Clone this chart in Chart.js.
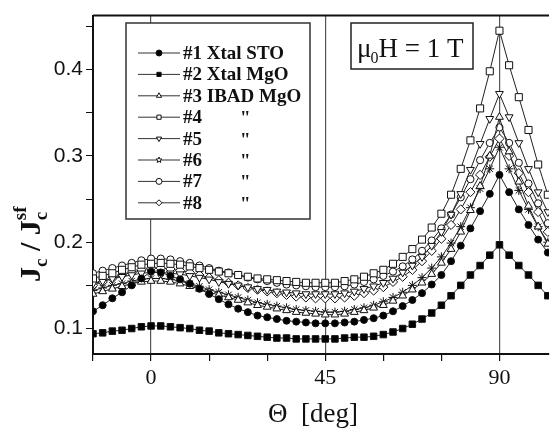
<!DOCTYPE html>
<html lang="en">
<head>
    <meta charset="UTF-8">
    <title>Jc / Jc sf vs angle</title>
    <style>
        body { margin: 0; background: #fff; }
        #wrap { width: 555px; height: 430px; overflow: hidden; }
    </style>
    <script src="https://cdn.jsdelivr.net/npm/chart.js"></script>
</head>
<body>
    <div id="wrap">
        <canvas id="jcChart" width="555" height="430"></canvas>
    </div>

    <script>
        // angle in degrees
        const theta = [-15, -12.5, -10, -7.5, -5, -2.5, 0, 2.5, 5, 7.5, 10, 12.5, 15, 17.5, 20, 22.5,
            25, 27.5, 30, 32.5, 35, 37.5, 40, 42.5, 45, 47.5, 50, 52.5, 55, 57.5, 60, 62.5,
            65, 67.5, 70, 72.5, 75, 77.5, 80, 82.5, 85, 87.5, 90, 92.5, 95, 97.5, 100, 102.5];

        const s1 = [.120, .127, .135, .142, .150, .158, .166, .165, .161, .157, .152, .146, .140, .134, .128, .123,
            .119, .115, .113, .111, .109, .108, .107, .106, .106, .106, .107, .108, .110, .112, .115, .120,
            .126, .133, .141, .151, .162, .178, .196, .216, .236, .256, .278, .258, .238, .220, .203, .188];
        const s2 = [.094, .095, .097, .098, .100, .102, .103, .103, .102, .101, .100, .098, .097, .095, .094, .093,
            .092, .091, .090, .089, .089, .088, .088, .088, .088, .088, .089, .090, .090, .091, .093, .096,
            .100, .105, .111, .118, .127, .138, .150, .162, .173, .185, .197, .185, .173, .162, .150, .138];
        const s3 = [.140, .143, .146, .149, .152, .154, .155, .155, .154, .152, .149, .146, .142, .139, .136, .133,
            .130, .127, .125, .123, .121, .119, .118, .117, .116, .116, .117, .119, .121, .124, .127, .132,
            .138, .145, .153, .163, .176, .192, .212, .237, .265, .300, .345, .305, .270, .242, .218, .198];
        const s4 = [.158, .161, .164, .168, .171, .174, .175, .176, .175, .174, .172, .170, .168, .166, .164, .162,
            .160, .158, .157, .156, .155, .154, .153, .153, .153, .153, .155, .157, .160, .164, .168, .175,
            .183, .192, .203, .217, .233, .255, .285, .318, .355, .398, .445, .405, .368, .330, .290, .255];
        const s5 = [.152, .155, .158, .160, .162, .164, .165, .165, .164, .163, .161, .159, .157, .154, .152, .150,
            .148, .146, .145, .143, .142, .141, .140, .140, .140, .140, .141, .143, .146, .149, .153, .158,
            .165, .173, .183, .196, .212, .232, .256, .284, .314, .343, .372, .345, .315, .285, .258, .235];
        const s6 = [.144, .147, .150, .152, .155, .157, .158, .158, .157, .155, .152, .149, .145, .142, .139, .136,
            .133, .130, .128, .126, .124, .122, .121, .120, .119, .119, .120, .122, .124, .127, .131, .136,
            .142, .150, .159, .170, .183, .199, .218, .240, .262, .285, .310, .285, .260, .238, .218, .200];
        const s7 = [.164, .167, .170, .173, .176, .179, .181, .181, .180, .178, .176, .173, .170, .167, .165, .162,
            .159, .157, .155, .153, .151, .150, .149, .148, .148, .148, .149, .151, .154, .157, .161, .166,
            .172, .180, .190, .202, .216, .232, .252, .273, .295, .315, .333, .315, .292, .268, .245, .222];
        const s8 = [.150, .154, .158, .162, .165, .168, .170, .170, .169, .167, .165, .162, .159, .156, .153, .150,
            .147, .145, .143, .141, .139, .137, .136, .135, .135, .135, .136, .138, .141, .144, .148, .154,
            .160, .168, .178, .190, .204, .220, .238, .258, .278, .299, .320, .300, .280, .258, .235, .212];

        const seriesNames = ['#1 Xtal STO', '#2 Xtal MgO', '#3 IBAD MgO', '#4', '#5', '#6', '#7', '#8'];
        const seriesNotes = ['', '', '', '"', '"', '"', '"', '"'];
        const seriesValues = [s1, s2, s3, s4, s5, s6, s7, s8];

        const xTicks = [0, 45, 90];
        const yTicks = [0.1, 0.2, 0.3, 0.4];

        // marker look per series
        const markers = [
            { style: 'circle', r: 3.5, fill: '#000', rot: 0 },
            { style: 'rect', r: 4.6, fill: '#000', rot: 0 },
            { style: 'triangle', r: 4.5, fill: '#fff', rot: 0 },
            { style: 'rect', r: 5, fill: '#fff', rot: 0 },
            { style: 'triangle', r: 4.5, fill: '#fff', rot: 180 },
            { style: 'star', r: 4.5, fill: '#fff', rot: 0 },
            { style: 'circle', r: 3.6, fill: '#fff', rot: 0 },
            { style: 'rectRot', r: 4.6, fill: '#fff', rot: 0 }
        ];

        const datasets = seriesValues.map((vals, i) => ({
            label: seriesNames[i],
            data: vals.map((v, k) => ({ x: theta[k], y: v })),
            borderColor: '#222',
            borderWidth: 1,
            pointStyle: markers[i].style,
            pointRadius: markers[i].r,
            pointRotation: markers[i].rot,
            pointBackgroundColor: markers[i].fill,
            pointBorderColor: '#111',
            pointBorderWidth: 1,
            tension: 0
        }));

        function drawMarker(ctx, m, x, y, r) {
            ctx.save();
            ctx.translate(x, y);
            ctx.rotate(m.rot * Math.PI / 180);
            ctx.beginPath();
            if (m.style === 'circle') {
                ctx.arc(0, 0, r, 0, Math.PI * 2);
            } else if (m.style === 'rect') {
                ctx.rect(-r * 0.7, -r * 0.7, r * 1.4, r * 1.4);
            } else if (m.style === 'rectRot') {
                ctx.moveTo(0, -r); ctx.lineTo(r, 0); ctx.lineTo(0, r); ctx.lineTo(-r, 0); ctx.closePath();
            } else if (m.style === 'triangle') {
                ctx.moveTo(0, -r); ctx.lineTo(r * 0.87, r * 0.5); ctx.lineTo(-r * 0.87, r * 0.5); ctx.closePath();
            } else if (m.style === 'star') {
                for (let k = 0; k < 10; k++) {
                    const a = -Math.PI / 2 + k * Math.PI / 5;
                    const rr = k % 2 ? r * 0.45 : r;
                    ctx.lineTo(Math.cos(a) * rr, Math.sin(a) * rr);
                }
                ctx.closePath();
            }
            ctx.fillStyle = m.fill;
            ctx.fill();
            ctx.lineWidth = 1;
            ctx.strokeStyle = '#111';
            ctx.stroke();
            ctx.restore();
        }

        // legend box, field label, axis titles and top frame
        const decorations = {
            id: 'decorations',
            afterDraw(chart) {
                const ctx = chart.ctx;
                const area = chart.chartArea;
                ctx.save();

                // top frame line
                ctx.strokeStyle = '#111';
                ctx.lineWidth = 2;
                ctx.beginPath();
                ctx.moveTo(area.left, area.top);
                ctx.lineTo(area.right, area.top);
                ctx.stroke();

                // legend
                ctx.fillStyle = '#fff';
                ctx.fillRect(126, 23, 184, 196);
                ctx.strokeStyle = '#333';
                ctx.lineWidth = 1.5;
                ctx.strokeRect(126, 23, 184, 196);
                ctx.font = 'bold 19px "Liberation Serif"';
                ctx.textBaseline = 'middle';
                seriesNames.forEach((name, i) => {
                    const y = 53 + i * 21.4;
                    ctx.strokeStyle = '#333';
                    ctx.lineWidth = 1;
                    ctx.beginPath();
                    ctx.moveTo(138, y);
                    ctx.lineTo(180, y);
                    ctx.stroke();
                    drawMarker(ctx, markers[i], 159, y, 3);
                    ctx.fillStyle = '#111';
                    ctx.fillText(name, 183, y + 1);
                    if (seriesNotes[i]) ctx.fillText(seriesNotes[i], 240, y + 2);
                });

                // field label box
                ctx.strokeStyle = '#222';
                ctx.lineWidth = 1.5;
                ctx.strokeRect(351, 23, 122, 46);
                ctx.fillStyle = '#111';
                ctx.textBaseline = 'alphabetic';
                ctx.font = '27px "Liberation Serif"';
                let x = 357;
                ctx.fillText('\u03bc', x, 57);
                x += ctx.measureText('\u03bc').width;
                ctx.font = '16px "Liberation Serif"';
                ctx.fillText('0', x - 1, 63);
                x += ctx.measureText('0').width - 1;
                ctx.font = '27px "Liberation Serif"';
                ctx.fillText('H = 1 T', x, 57);

                // x title
                ctx.font = '27px "Liberation Serif"';
                ctx.textAlign = 'center';
                ctx.fillText('\u0398  [deg]', 313, 422);

                // y title, rotated
                ctx.translate(40, 282);
                ctx.rotate(-Math.PI / 2);
                ctx.textAlign = 'left';
                const big = 'bold 30px "Liberation Serif"';
                const small = 'bold 19px "Liberation Serif"';
                const parts = [
                    ['J', big, 0],
                    ['c', small, 7],
                    [' / ', big, 0],
                    ['J', big, 0],
                    ['c', small, 7]
                ];
                let px = 0;
                parts.forEach(p => {
                    ctx.font = p[1];
                    ctx.fillText(p[0], px, p[2]);
                    px += ctx.measureText(p[0]).width;
                });
                ctx.font = small;
                ctx.fillText('sf', px - ctx.measureText('c').width, -14);
                ctx.restore();
            }
        };

        const ctx = document.getElementById('jcChart').getContext('2d');
        new Chart(ctx, {
            type: 'line',
            data: { datasets: datasets },
            options: {
                responsive: false,
                animation: false,
                layout: { padding: { top: 10, right: 0, left: 0, bottom: 0 } },
                plugins: { legend: { display: false }, tooltip: { enabled: false } },
                scales: {
                    x: {
                        type: 'linear',
                        min: -15,
                        max: 102.8,
                        afterFit: scale => { scale.height = 76; },
                        border: { color: '#111', width: 2 },
                        grid: {
                            color: c => (c.tick && xTicks.includes(c.tick.value)) ? '#555' : 'rgba(0,0,0,0)',
                            tickColor: '#111',
                            tickLength: 7,
                            lineWidth: 1.2
                        },
                        ticks: {
                            stepSize: 15,
                            includeBounds: false,
                            autoSkip: false,
                            maxRotation: 0,
                            padding: 4,
                            color: '#111',
                            font: { family: 'Liberation Serif', size: 22 },
                            callback: v => xTicks.includes(v) ? String(v) : ''
                        }
                    },
                    y: {
                        min: 0.0705,
                        max: 0.4625,
                        afterFit: scale => { scale.width = 93; },
                        border: { color: '#111', width: 2 },
                        grid: { drawOnChartArea: false, tickColor: '#111', tickLength: 7 },
                        ticks: {
                            stepSize: 0.05,
                            includeBounds: false,
                            autoSkip: false,
                            padding: 3,
                            color: '#111',
                            font: { family: 'Liberation Sans', size: 21 },
                            callback: v => {
                                const t = yTicks.find(q => Math.abs(q - v) < 1e-6);
                                return t !== undefined ? t.toFixed(1) : '';
                            }
                        }
                    }
                }
            },
            plugins: [decorations]
        });
    </script>
</body>
</html>
